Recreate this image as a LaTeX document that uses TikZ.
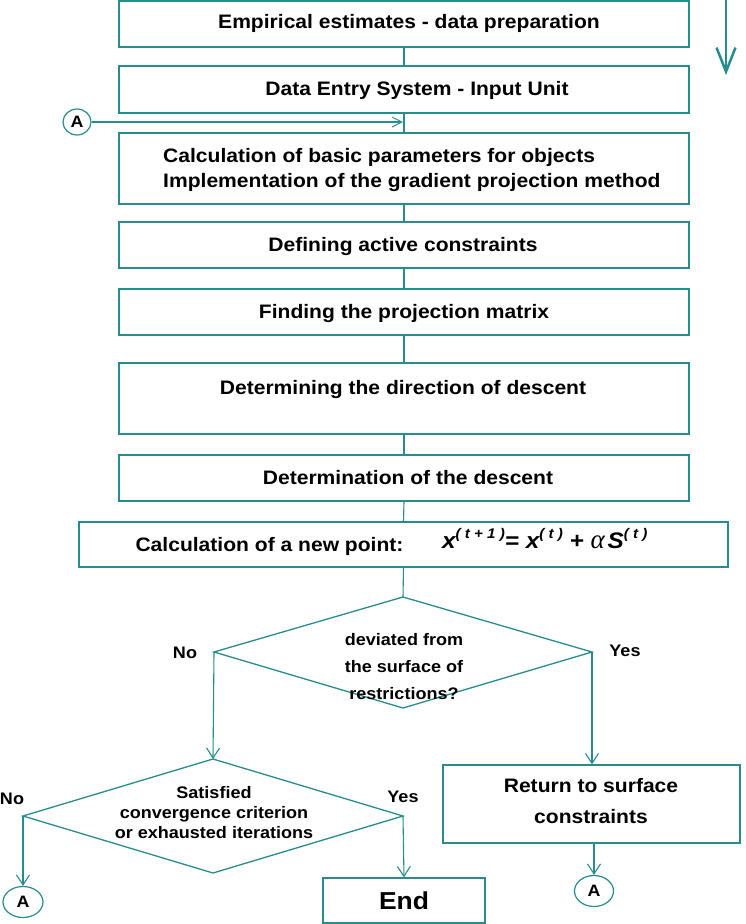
\documentclass[tikz,border=0pt]{standalone}
\usepackage{fontspec}
\setmainfont{Liberation Sans}[FakeStretch=1.08]
\newfontfamily\greekfont{Liberation Serif}
\usetikzlibrary{arrows.meta,shapes.geometric}
\definecolor{teal}{RGB}{38,140,140}
\tikzset{
  box/.style={draw=teal, line width=1.3pt, rectangle, inner sep=0pt},
  conn/.style={draw=teal, line width=1.1pt},
  arr/.style={conn, -{Straight Barb[length=10pt,width=13pt,line width=1.1pt]}},
  lbl/.style={font=\fontsize{19.5}{25}\selectfont\bfseries, inner sep=0pt, text=black},
  slbl/.style={font=\fontsize{16.7}{27}\selectfont\bfseries, inner sep=0pt, text=black, align=center},
  conA/.style={draw=teal, line width=1.2pt, ellipse, inner sep=0pt, font=\fontsize{16.5}{18}\selectfont\bfseries}
}
\newcommand{\supx}[1]{\raisebox{9.5pt}{\fontsize{14}{16}\selectfont #1}}
\begin{document}
\begin{tikzpicture}[x=1pt,y=-1pt]
\useasboundingbox (0,0) rectangle (745,924);
% boxes
\node[box, minimum width=570pt, minimum height=46pt] (b1) at (404,24) {};
\node[box, minimum width=570pt, minimum height=47pt] (b2) at (404,89.5) {};
\node[box, minimum width=570pt, minimum height=71pt] (b3) at (404,168.5) {};
\node[box, minimum width=570pt, minimum height=46pt] (b4) at (404,245) {};
\node[box, minimum width=570pt, minimum height=46pt] (b5) at (404,312) {};
\node[box, minimum width=570pt, minimum height=71pt] (b6) at (404,398.5) {};
\node[box, minimum width=570pt, minimum height=46pt] (b7) at (404,478) {};
\node[box, minimum width=649pt, minimum height=45pt] (b8) at (403.5,544.5) {};
\node[box, minimum width=297pt, minimum height=78pt] (ret) at (591.5,804) {};
\node[box, minimum width=162pt, minimum height=45pt] (end) at (404,900.5) {};
% texts
\node[lbl] (t1) at (409,23) {Empirical estimates - data preparation};
\node[lbl] (t2) at (417,90) {Data Entry System - Input Unit};
\node[lbl, anchor=west, align=left] (t3) at (163,170) {Calculation of basic parameters for objects\\Implementation of the gradient projection method};
\node[lbl] (t4) at (403,246) {Defining active constraints};
\node[lbl] (t5) at (404,313) {Finding the projection matrix};
\node[lbl] (t6) at (403,389) {Determining the direction of descent};
\node[lbl] (t7) at (408,478) {Determination of the descent};
\node[lbl] (t8) at (269.5,546) {Calculation of a new point:};
\node[inner sep=0pt, anchor=base west, font=\fontsize{22.5}{24}\selectfont\bfseries\itshape] (f8) at (442,548)
  {x\supx{( t + 1 )}= x\supx{( t )} + {\greekfont\mdseries\itshape\fontsize{27}{27}\selectfont α}\kern3pt S\supx{( t )}};
\node[lbl, align=center, font=\fontsize{19.5}{31}\selectfont\bfseries] (tr) at (591,801) {Return to surface\\constraints};
\node[lbl, font=\fontsize{24.5}{26}\selectfont\bfseries] (te) at (404,901) {End};
% diamonds
\coordinate (d1t) at (403,597);
\coordinate (d1r) at (592,652);
\coordinate (d1b) at (403,708);
\coordinate (d1l) at (214,652);
\draw[conn, line width=1.3pt] (d1t) -- (d1r) -- (d1b) -- (d1l) -- cycle;
\node[slbl] (dt1) at (404,667) {deviated from\\the surface of\\restrictions?};
\coordinate (d2t) at (213,759);
\coordinate (d2r) at (403,816);
\coordinate (d2b) at (213,873);
\coordinate (d2l) at (23,816);
\draw[conn, line width=1.3pt] (d2t) -- (d2r) -- (d2b) -- (d2l) -- cycle;
\node[slbl, font=\fontsize{16.7}{20}\selectfont\bfseries] (dt2) at (214,813) {Satisfied\\convergence criterion\\or exhausted iterations};
% yes/no labels
\node[slbl] (no1) at (185,653) {No};
\node[slbl] (yes1) at (625,651) {Yes};
\node[slbl] (no2) at (12,799) {No};
\node[slbl] (yes2) at (403,797) {Yes};
% connectors A
\node[conA, minimum width=28pt, minimum height=26pt] (a1) at (77,122) {A};
\node[conA, minimum width=40pt, minimum height=31pt] (a2) at (23,902) {A};
\node[conA, minimum width=39pt, minimum height=31pt] (a3) at (594,891) {A};
% connectors
\draw[conn] (b1.south) -- (b2.north);
\draw[conn] (b2.south) -- (b3.north);
\coordinate (m23) at (403,122);
\draw[conn, -{Straight Barb[length=10pt,width=10pt,line width=1pt]}] (a1.east) -- (m23);
\draw[conn] (b3.south) -- (b4.north);
\draw[conn] (b4.south) -- (b5.north);
\draw[conn] (b5.south) -- (b6.north);
\draw[conn] (b6.south) -- (b7.north);
\draw[conn] (b7.south) -- (b8.north);
\draw[conn] (b8.south) -- (d1t);
\draw[arr] (d1l) -- (d2t);
\draw[arr] (d1r) -- (d1r |- ret.north);
\draw[arr] (d2l) -- (a2.north);
\draw[arr] (d2r) -- (end.north);
\draw[arr] (a3.north |- ret.south) -- (a3.north);
% top right arrow
\coordinate (ts) at (726,0);
\coordinate (te2) at (726,75);
\draw[conn, line width=2.5pt, -{Straight Barb[length=24pt,width=19pt,line width=2.5pt]}] (ts) -- (te2);
\end{tikzpicture}
\end{document}
